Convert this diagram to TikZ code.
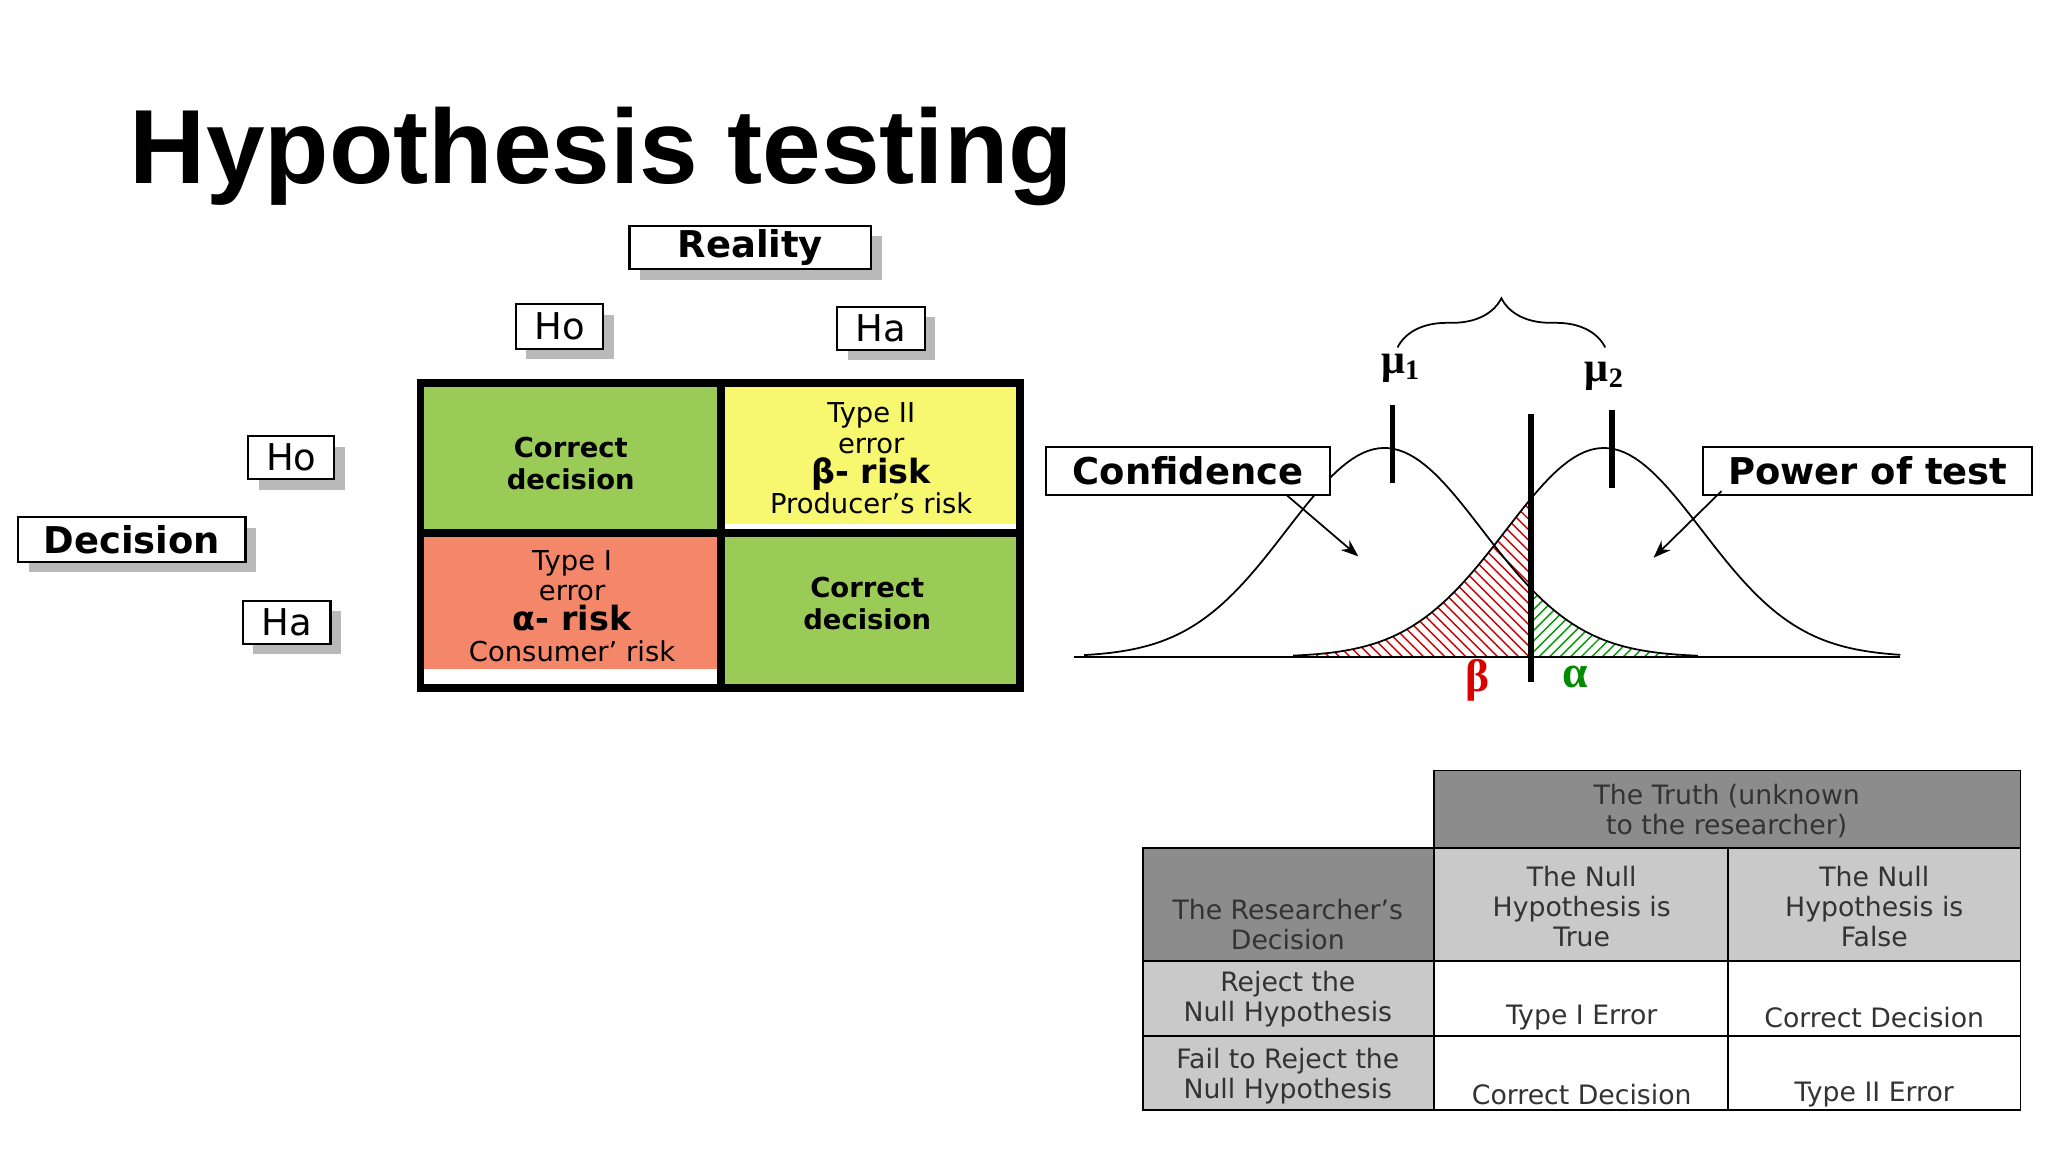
\documentclass[tikz,border=0pt]{standalone}
\usepackage{fontspec}
\setmainfont{DejaVu Sans}
\newfontfamily\arialf{Liberation Sans}
\newfontfamily\serf{Liberation Serif}
\usetikzlibrary{patterns,decorations.pathreplacing,arrows.meta}
\definecolor{cgreen}{HTML}{9BCB57}
\definecolor{cyellow}{HTML}{F8F870}
\definecolor{csalmon}{HTML}{F4866A}
\definecolor{tdark}{HTML}{8C8C8C}
\definecolor{tlight}{HTML}{C9C9C9}
\definecolor{ttext}{HTML}{333333}
\tikzset{
 lbl/.style={draw=black,fill=white,inner sep=0pt,line width=0.6pt},
 shad/.style={fill=gray!55,draw=none},
 cell/.style={font=\fontsize{7.6}{8.6}\selectfont,align=center,text=ttext},
}
\newcommand{\myshbox}[6]{%
 \fill[shad] (#1+8,#3+8) rectangle (#2+8,#4+8);
 \node[lbl,minimum width=(#2-#1)*0.01306cm,minimum height=(#4-#3)*0.01306cm] (#5) at ({(#1+#2)/2},{(#3+#4)/2}) {#6};}
\begin{document}
\begin{tikzpicture}[x=0.01306cm,y=-0.01306cm]
\useasboundingbox (0,0) rectangle (1568,882);
\node[anchor=west,font=\arialf\bfseries\fontsize{30}{34}\selectfont] (title) at (90,120) {Hypothesis testing};
\myshbox{482}{667}{173}{206}{reality}{\bfseries\fontsize{10.5}{12}\selectfont Reality}
\myshbox{395}{462}{233}{267}{ho1}{\fontsize{10.5}{12}\selectfont Ho}
\myshbox{641}{708}{235}{268}{ha1}{\fontsize{10.5}{12}\selectfont Ha}
\myshbox{190}{256}{334}{367}{ho2}{\fontsize{10.5}{12}\selectfont Ho}
\myshbox{186}{253}{460}{493}{ha2}{\fontsize{10.5}{12}\selectfont Ha}
\myshbox{14}{188}{396}{430}{dec}{\bfseries\fontsize{10.5}{12}\selectfont Decision}
% matrix
\fill[cgreen] (325,296) rectangle (551,406);
\fill[cyellow] (554,296) rectangle (779,401);
\fill[csalmon] (325,410) rectangle (551,512);
\fill[cgreen] (554,410) rectangle (779,525);
\draw[line width=2.2pt] (322,293) rectangle (781,527);
\draw[line width=2.2pt] (552,293) -- (552,527);
\draw[line width=2.2pt] (322,408) -- (781,408);
\node[font=\bfseries\fontsize{7.8}{9}\selectfont,align=center] (c11) at (437,355) {Correct\\decision};
\node[font=\bfseries\fontsize{7.8}{9}\selectfont,align=center] (c22) at (664,462) {Correct\\decision};
\node[font=\fontsize{7.8}{8.6}\selectfont,align=center] (c12) at (667,351) {Type II\\error\\{\bfseries\fontsize{9.5}{11}\selectfont β- risk}\\Producer's risk};
\node[font=\fontsize{7.8}{8.6}\selectfont,align=center] (c21) at (438,464) {Type I\\error\\{\bfseries\fontsize{9.5}{11}\selectfont α- risk}\\Consumer' risk};
% curves
\def\sg{75}
\fill[pattern=north east lines,pattern color=green!60!black] plot[domain=1172:1300,samples=60] (\x,{503-160*exp(-0.5*((\x-1060)/\sg)^2)}) -- (1300,503) -- (1172,503) -- cycle;
\fill[pattern=north west lines,pattern color=red!80!black] plot[domain=1000:1172,samples=60] (\x,{503-160*exp(-0.5*((\x-1228)/\sg)^2)}) -- (1172,503) -- (1000,503) -- cycle;
\draw[line width=0.5pt] (822,503) -- (1455,503);
\draw[line width=0.5pt] plot[domain=830:1300,samples=120] (\x,{503-160*exp(-0.5*((\x-1060)/\sg)^2)});
\draw[line width=0.5pt] plot[domain=990:1455,samples=120] (\x,{503-160*exp(-0.5*((\x-1228)/\sg)^2)});
\coordinate (m1t) at (1066,310); \coordinate (m1b) at (1066,370);
\coordinate (m2t) at (1234,314); \coordinate (m2b) at (1234,374);
\coordinate (ct) at (1172,317); \coordinate (cb) at (1172,522);
\draw[line width=1.6pt] (m1t) -- (m1b);
\draw[line width=1.6pt] (m2t) -- (m2b);
\draw[line width=1.8pt] (ct) -- (cb);
\coordinate (bl) at (1070,266); \coordinate (br) at (1229,266);
\draw[decorate,decoration={brace,amplitude=14pt},line width=0.5pt] (bl) -- (br);
\node[font=\serf\bfseries\fontsize{12}{14}\selectfont] (mu1) at (1072,282) {μ\raisebox{-0.3ex}{\fontsize{8}{9}\selectfont 1}};
\node[font=\serf\bfseries\fontsize{12}{14}\selectfont] (mu2) at (1228,288) {μ\raisebox{-0.3ex}{\fontsize{8}{9}\selectfont 2}};
\node[font=\serf\bfseries\fontsize{13}{14}\selectfont,text=red!85!black] (beta) at (1131,521) {β};
\node[font=\serf\bfseries\fontsize{13}{14}\selectfont,text=green!55!black] (alpha) at (1206,518) {α};
\node[lbl,minimum width=217*0.01306cm,minimum height=37*0.01306cm,font=\bfseries\fontsize{10.5}{12}\selectfont] (conf) at (909.5,360.5) {Confidence};
\node[lbl,minimum width=252*0.01306cm,minimum height=37*0.01306cm,font=\bfseries\fontsize{10.5}{12}\selectfont] (pow) at (1430,360.5) {Power of test};
\coordinate (ca) at (1040,426); \coordinate (pa) at (1266,427);
\draw[-{Stealth[length=5pt]},line width=0.5pt] (985,379) -- (ca);
\draw[-{Stealth[length=5pt]},line width=0.5pt] (1318,376) -- (pa);
% table
\fill[tdark] (1098,590) rectangle (1547,649);
\fill[tdark] (875,649) rectangle (1098,736);
\fill[tlight] (1098,649) rectangle (1547,736);
\fill[tlight] (875,736) rectangle (1098,850);
\draw[line width=0.5pt] (1098,590) -- (1547,590) -- (1547,850) -- (875,850) -- (875,649) -- (1098,649) -- cycle;
\draw[line width=0.5pt] (875,736) -- (1547,736) (875,793) -- (1547,793) (1098,649) -- (1547,649) (1098,649) -- (1098,850) (1323,649) -- (1323,850);
\node[cell] (t1) at (1322,621) {The Truth (unknown\\to the researcher)};
\node[cell] (t2) at (986,708) {The Researcher's\\Decision};
\node[cell] (t3) at (1211,694) {The Null\\Hypothesis is\\True};
\node[cell] (t4) at (1435,694) {The Null\\Hypothesis is\\False};
\node[cell] (t5) at (986,765) {Reject the\\Null Hypothesis};
\node[cell] (t6) at (986,824) {Fail to Reject the\\Null Hypothesis};
\node[cell] (t7) at (1211,779) {Type I Error};
\node[cell] (t8) at (1435,779) {Correct Decision};
\node[cell] (t9) at (1211,838) {Correct Decision};
\node[cell] (t10) at (1435,838) {Type II Error};
\end{tikzpicture}
\end{document}
